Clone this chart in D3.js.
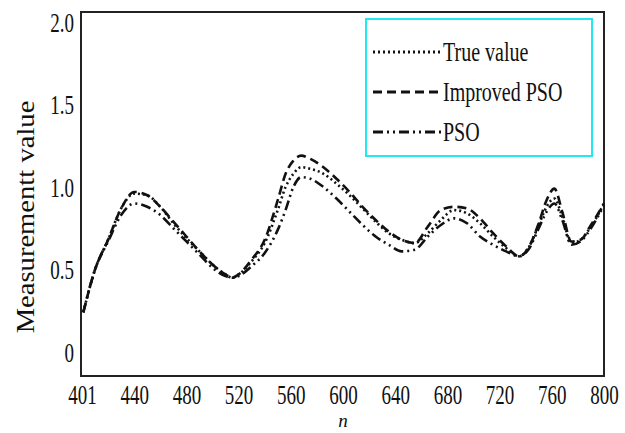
<!DOCTYPE html>
<html>
<head>
<meta charset="utf-8">
<script src="https://cdn.jsdelivr.net/npm/d3@7"></script>
<style>
  body { margin: 0; background: #fff; }
  text { font-family: "Liberation Serif", "Times New Roman", serif; fill: #111; }
</style>
</head>
<body>
<div id="chart"></div>
<script>
// data
const nValues = [401, 410, 420, 430, 440, 450, 460, 470, 480, 490, 500, 510, 515, 520, 530, 540, 550, 556, 562, 568,
    575, 585, 595, 605, 615, 625, 635, 645, 655, 665, 675, 685, 695, 705, 715, 725, 735, 742, 750, 756, 762, 768,
    775, 782, 790, 800];
const trueValue = [0.24, 0.50, 0.68, 0.87, 0.96, 0.95, 0.88, 0.78, 0.69, 0.61, 0.53, 0.47, 0.45, 0.47, 0.55, 0.66, 0.86, 1.00, 1.08, 1.12,
    1.11, 1.08, 1.02, 0.95, 0.87, 0.79, 0.72, 0.68, 0.66, 0.72, 0.80, 0.86, 0.84, 0.78, 0.70, 0.63, 0.58, 0.63, 0.77, 0.88, 0.93, 0.82,
    0.66, 0.68, 0.76, 0.90];
const improvedPSO = [0.24, 0.50, 0.68, 0.87, 0.97, 0.95, 0.88, 0.79, 0.70, 0.61, 0.53, 0.47, 0.45, 0.47, 0.56, 0.68, 0.92, 1.08, 1.16, 1.19,
    1.17, 1.12, 1.05, 0.97, 0.88, 0.80, 0.73, 0.68, 0.66, 0.76, 0.86, 0.88, 0.87, 0.81, 0.72, 0.64, 0.58, 0.63, 0.78, 0.92, 0.99, 0.85,
    0.67, 0.68, 0.77, 0.90];
const pso = [0.24, 0.50, 0.67, 0.83, 0.90, 0.88, 0.83, 0.75, 0.67, 0.59, 0.51, 0.46, 0.45, 0.46, 0.52, 0.60, 0.74, 0.86, 1.00, 1.06,
    1.05, 1.00, 0.93, 0.85, 0.77, 0.70, 0.65, 0.61, 0.62, 0.70, 0.77, 0.81, 0.78, 0.70, 0.65, 0.61, 0.58, 0.62, 0.75, 0.85, 0.90, 0.80,
    0.65, 0.67, 0.75, 0.89];

const xTicks = [400, 440, 480, 520, 560, 600, 640, 680, 720, 760, 800];
const xTickLabels = ["401", "440", "480", "520", "560", "600", "640", "680", "720", "760", "800"];
const yTicks = [0, 0.5, 1.0, 1.5, 2.0];
const yTickLabels = ["0", "0.5", "1.0", "1.5", "2.0"];

const seriesNames = ["True value", "Improved PSO", "PSO"];
const seriesValues = [trueValue, improvedPSO, pso];
const dashes = ["2,3", "9,5", "10,4,2,4,2,4"];

const svgWidth = 625, svgHeight = 433;
const frame = { left: 81, right: 604, top: 12, bottom: 376 };
const stretch = 1.4; // text in the picture is drawn taller than wide

let svg = d3.select("#chart").append("svg")
    .attr("width", svgWidth)
    .attr("height", svgHeight);

let x = d3.scaleLinear().domain([400, 800]).range([82, 604]);
let y = d3.scaleLinear().domain([0, 2]).range([352, 22]);

// plot frame
svg.append("rect")
    .attr("x", frame.left).attr("y", frame.top)
    .attr("width", frame.right - frame.left)
    .attr("height", frame.bottom - frame.top)
    .attr("fill", "none")
    .attr("stroke", "#222")
    .attr("stroke-width", 2);

// x axis labels
let xAxis = svg.append("g")
    .attr("transform", `translate(0,${frame.bottom})`)
    .call(d3.axisBottom(x).tickValues(xTicks).tickSize(0)
        .tickFormat((d, i) => xTickLabels[i]));
xAxis.select(".domain").remove();
xAxis.selectAll("text")
    .attr("y", 0).attr("dy", null)
    .attr("transform", `translate(0,28) scale(1,${stretch})`)
    .style("font-size", "19px")
    .style("font-family", "Liberation Serif");

// y axis labels
let yAxis = svg.append("g")
    .attr("transform", "translate(74,0)")
    .call(d3.axisLeft(y).tickValues(yTicks).tickSize(0)
        .tickFormat((d, i) => yTickLabels[i]));
yAxis.select(".domain").remove();
yAxis.selectAll("text")
    .attr("x", 0).attr("dy", null).attr("y", 0)
    .attr("transform", `translate(0,9) scale(1,${stretch})`)
    .style("font-size", "19px")
    .style("font-family", "Liberation Serif");

// axis titles
svg.append("text")
    .attr("transform", `translate(34,217) rotate(-90) scale(1.1,1)`)
    .attr("text-anchor", "middle")
    .style("font-size", "26px")
    .text("Measurementt value");
svg.append("text")
    .attr("x", 343).attr("y", 427)
    .attr("text-anchor", "middle")
    .style("font-size", "19px")
    .style("font-style", "italic")
    .text("n");

// lines
let line = d3.line()
    .x((d, i) => x(nValues[i]))
    .y(d => y(d))
    .curve(d3.curveMonotoneX);

svg.selectAll(".series")
    .data(seriesValues)
    .enter()
    .append("path")
    .attr("class", "series")
    .attr("d", line)
    .attr("fill", "none")
    .attr("stroke", "#111")
    .attr("stroke-width", 2.6)
    .attr("stroke-dasharray", (d, i) => dashes[i]);

// legend
let legend = svg.append("g");
legend.append("rect")
    .attr("x", 366).attr("y", 19)
    .attr("width", 226).attr("height", 137)
    .attr("fill", "#fff")
    .attr("stroke", "#22e8f2")
    .attr("stroke-width", 2);
seriesNames.forEach((name, i) => {
    let cy = 52 + i * 40;
    legend.append("line")
        .attr("x1", 373).attr("x2", 441)
        .attr("y1", cy).attr("y2", cy)
        .attr("stroke", "#111")
        .attr("stroke-width", 3)
        .attr("stroke-dasharray", dashes[i]);
    legend.append("text")
        .attr("transform", `translate(443,${cy + 9}) scale(1,${stretch})`)
        .style("font-size", "20px")
        .text(name);
});
</script>
</body>
</html>
